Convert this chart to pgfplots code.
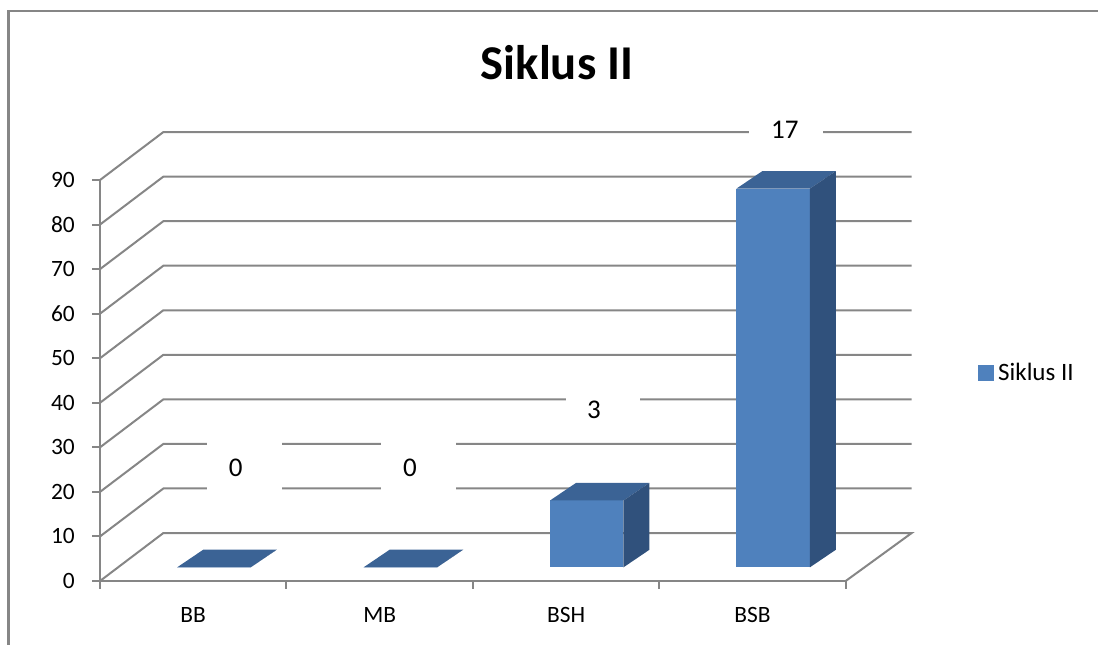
\documentclass[border=0pt]{standalone}
\usepackage{fontspec}
\setmainfont{Carlito}
\usepackage{pgfplots}
\pgfplotsset{compat=1.18}
\definecolor{gridgray}{RGB}{134,134,134}
\definecolor{framegray}{RGB}{134,134,134}
\definecolor{barfront}{RGB}{79,129,189}
\definecolor{bartop}{RGB}{59,99,149}
\definecolor{barside}{RGB}{48,81,124}
% 3D bar: #1 = category centre, #2 = value
\newcommand{\threedbar}[2]{%
  \fill[barfront] (axis cs:{#1-0.086},3.07) rectangle (axis cs:{#1+0.308},{3.07+#2});
  \fill[bartop] (axis cs:{#1-0.086},{3.07+#2}) -- (axis cs:{#1+0.308},{3.07+#2})
     -- (axis cs:{#1+0.4475},{7.02+#2}) -- (axis cs:{#1+0.0535},{7.02+#2}) -- cycle;
  \fill[barside] (axis cs:{#1+0.308},3.07) -- (axis cs:{#1+0.4475},7.02)
     -- (axis cs:{#1+0.4475},{7.02+#2}) -- (axis cs:{#1+0.308},{3.07+#2}) -- cycle;
}
\begin{document}
\begin{tikzpicture}
\useasboundingbox (0,0) rectangle (549pt,322pt);
\draw[framegray, line width=1.1pt] (4.25pt,-3pt) -- (4.25pt,316.5pt) -- (555pt,316.5pt);
\node[font=\fontsize{24.3}{29}\selectfont\bfseries] at (278.5pt,290.5pt) {Siklus II};
\begin{axis}[
  at={(50pt,31.5pt)}, anchor=south west,
  scale only axis, width=372.85pt, height=200.5pt,
  xmin=0, xmax=4, ymin=0, ymax=90,
  clip=false,
  axis x line*=bottom, axis y line*=left,
  axis line style={gridgray, line width=1pt},
  xtick={0,1,2,3,4}, xticklabels={},
  ytick={0,10,...,90},
  tick style={gridgray, line width=1pt},
  tick align=outside, major tick length=3.75pt,
  yticklabel style={font=\fontsize{11.7}{14}\selectfont, /pgf/number format/assume math mode=true, xshift=-5.3pt},
  legend style={draw=none, fill=none, at={(1.1774,0.5187)}, anchor=west,
    font=\fontsize{12.5}{15}\selectfont, inner sep=0pt},
  legend cell align=left,
]
% left wall diagonals and back wall gridlines
\draw[gridgray, line width=1pt] (axis cs:0,0) -- (axis cs:0.34,10.77) -- (axis cs:4.354,10.77) -- (axis cs:4,0);
\pgfplotsinvokeforeach{10,20,30,40,50,60,70,80,90}{
  \draw[gridgray, line width=1pt] (axis cs:0,#1) -- (axis cs:0.34,{#1+10.77}) -- (axis cs:4.354,{#1+10.77});
}
% data label backgrounds
\fill[white] (axis cs:0.574,19.3) rectangle (axis cs:0.976,31.4);
\fill[white] (axis cs:1.507,19.3) rectangle (axis cs:1.910,31.4);
\fill[white] (axis cs:2.500,32.5) rectangle (axis cs:2.897,44.5);
\fill[white] (axis cs:3.483,95.2) rectangle (axis cs:3.876,107.2);
% bars (values in percent)
\threedbar{0.5}{0}
\threedbar{1.5}{0}
\threedbar{2.5}{15}
\threedbar{3.5}{85}
% data labels (counts)
\begin{scope}[font=\fontsize{13.5}{16}\selectfont]
\node at (axis cs:0.728,25.36) {0};
\node at (axis cs:1.663,25.36) {0};
\node at (axis cs:2.650,38.53) {3};
\node at (axis cs:3.674,101.2) {17};
\end{scope}
% category labels
\begin{scope}[font=\fontsize{11.7}{14}\selectfont]
\node at (axis cs:0.5,0) [yshift=-17pt] {BB};
\node at (axis cs:1.5,0) [yshift=-17pt] {MB};
\node at (axis cs:2.5,0) [yshift=-17pt] {BSH};
\node at (axis cs:3.5,0) [yshift=-17pt] {BSB};
\end{scope}
\addlegendimage{legend image code/.code={\fill[barfront] (0pt,-3.75pt) rectangle (7.5pt,3.75pt);}}
\addlegendentry{Siklus II}
\end{axis}
\end{tikzpicture}
\end{document}
